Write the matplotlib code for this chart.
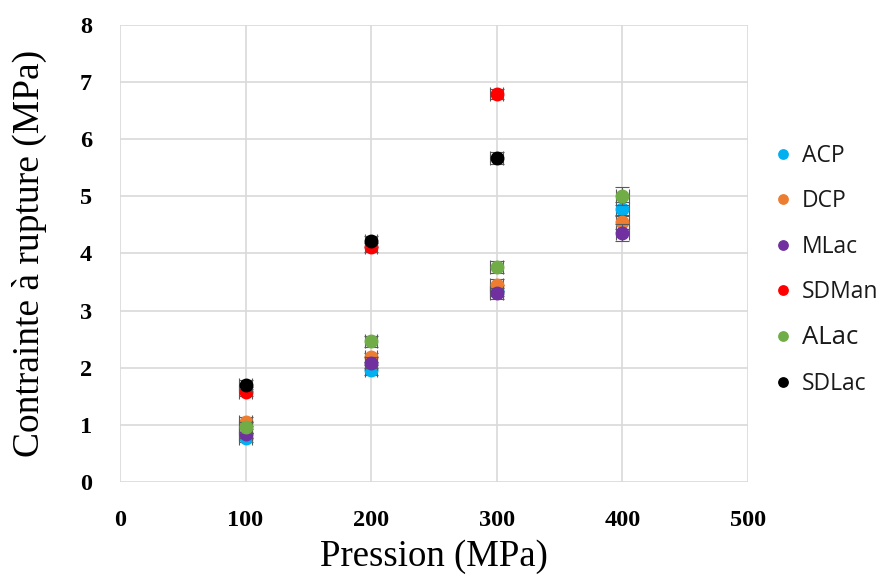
import numpy as np
import matplotlib
matplotlib.use('Agg')
import matplotlib.pyplot as plt

# valeurs
pression = [100, 200, 300, 400]
acp = [0.78, 1.96, 3.35, 4.78]
dcp = [1.06, 2.18, 3.45, 4.55]
mlac = [0.85, 2.09, 3.30, 4.36]
sdman = [1.58, 4.11, 6.79, np.nan]
alac = [0.96, 2.46, 3.76, 5.01]
sdlac = [1.70, 4.21, 5.67, np.nan]

err_acp = [0.08, 0.08, 0.10, 0.12]
err_dcp = [0.08, 0.08, 0.10, 0.12]
err_mlac = [0.08, 0.10, 0.10, 0.15]
err_sdman = [0.08, 0.08, 0.08, np.nan]
err_alac = [0.10, 0.10, 0.10, 0.16]
err_sdlac = [0.08, 0.10, 0.10, np.nan]

noms = ['ACP', 'DCP', 'MLac', 'SDMan', 'ALac', 'SDLac']
couleurs = ['#00B0F0', '#ED7D31', '#7030A0', '#FF0000', '#70AD47', '#000000']
series = [acp, dcp, mlac, sdman, alac, sdlac]
erreurs = [err_acp, err_dcp, err_mlac, err_sdman, err_alac, err_sdlac]

fig = plt.figure(figsize=(8.82, 5.76), dpi=100)
ax = fig.add_axes([0.136, 0.163, 0.712, 0.794])

for nom, c, y, e in zip(noms, couleurs, series, erreurs):
    ax.errorbar(pression, y, yerr=e, xerr=5, fmt='none', ecolor='#595959',
                elinewidth=0.8, capsize=5, capthick=0.8)
    ax.plot(pression, y, 'o', color=c, markersize=9, label=nom)

ax.set_xlim(0, 500)
ax.set_ylim(0, 8)
ax.set_xticks(range(0, 501, 100))
ax.set_yticks(range(0, 9))
ax.grid(True, color='#d9d9d9', linewidth=1.2)
ax.set_axisbelow(True)
for s in ax.spines.values():
    s.set_visible(False)
ax.tick_params(axis='x', length=0, pad=20)
ax.tick_params(axis='y', length=0, pad=20)
for lab in ax.get_xticklabels() + ax.get_yticklabels():
    lab.set_family('Liberation Serif')
    lab.set_weight('bold')
    lab.set_fontsize(17.5)

ax.set_xlabel('Pression (MPa)', family='Liberation Serif', fontsize=26.5, labelpad=6)
ax.set_ylabel('Contrainte à rupture (MPa)', family='Liberation Serif', fontsize=27, labelpad=24)

leg = fig.legend(loc='upper left', bbox_to_anchor=(0.875, 0.75), frameon=False,
                 prop={'family': 'Open Sans', 'size': 16.5}, handlelength=1,
                 handletextpad=0.3, labelspacing=0.93, borderpad=0, borderaxespad=0,
                 markerscale=0.75)
for t in leg.get_texts():
    t.set_color('#1a1a1a')
    if t.get_text() == 'ALac':
        t.set_fontsize(18.5)

fig.savefig('out.png', dpi=100)
